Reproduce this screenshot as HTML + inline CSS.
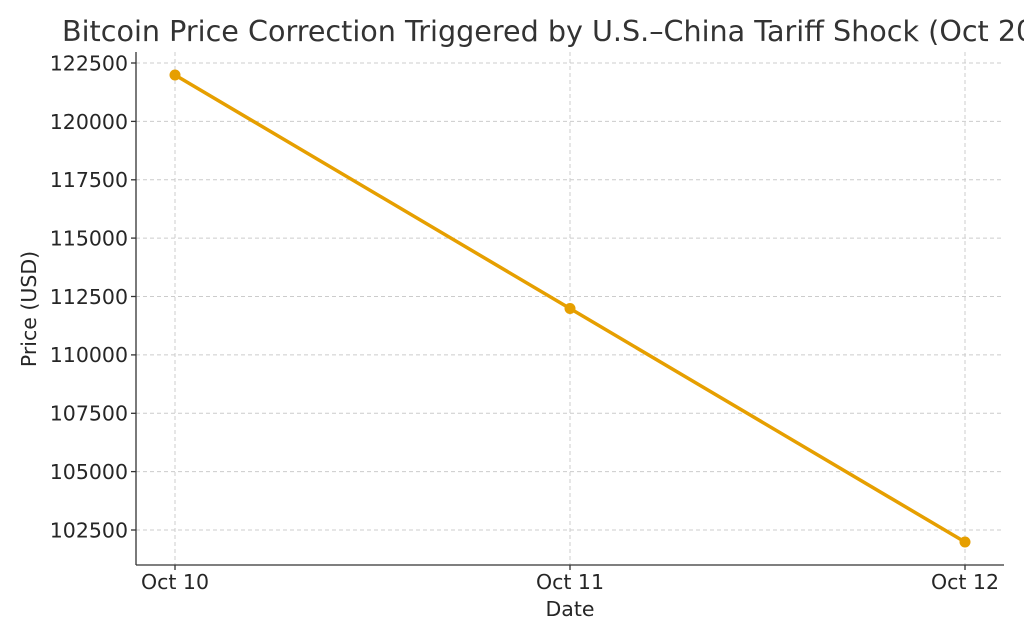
<!DOCTYPE html>
<html><head><meta charset="utf-8"><style>
html,body{margin:0;padding:0;background:#fff;overflow:hidden;}
svg{display:block;font-family:"DejaVu Sans","Liberation Sans",sans-serif;}
</style></head><body>
<svg width="1024" height="640" viewBox="0 0 1024 640" xmlns="http://www.w3.org/2000/svg">
<rect width="1024" height="640" fill="#fff"/>
<g stroke="#cccccc" stroke-width="1" stroke-dasharray="4,3">
<line x1="136" x2="1004" y1="63" y2="63"/>
<line x1="136" x2="1004" y1="121.4" y2="121.4"/>
<line x1="136" x2="1004" y1="179.8" y2="179.8"/>
<line x1="136" x2="1004" y1="238.1" y2="238.1"/>
<line x1="136" x2="1004" y1="296.5" y2="296.5"/>
<line x1="136" x2="1004" y1="354.9" y2="354.9"/>
<line x1="136" x2="1004" y1="413.3" y2="413.3"/>
<line x1="136" x2="1004" y1="471.6" y2="471.6"/>
<line x1="136" x2="1004" y1="530" y2="530"/>
<line x1="175" x2="175" y1="52" y2="565"/>
<line x1="570" x2="570" y1="52" y2="565"/>
<line x1="965" x2="965" y1="52" y2="565"/>
</g>
<g stroke="#333" stroke-width="1.3">
<line x1="136" x2="136" y1="52" y2="565"/>
<line x1="136" x2="1004" y1="565" y2="565"/>
<line x1="131" x2="136" y1="63" y2="63"/>
<line x1="131" x2="136" y1="121.4" y2="121.4"/>
<line x1="131" x2="136" y1="179.8" y2="179.8"/>
<line x1="131" x2="136" y1="238.1" y2="238.1"/>
<line x1="131" x2="136" y1="296.5" y2="296.5"/>
<line x1="131" x2="136" y1="354.9" y2="354.9"/>
<line x1="131" x2="136" y1="413.3" y2="413.3"/>
<line x1="131" x2="136" y1="471.6" y2="471.6"/>
<line x1="131" x2="136" y1="530" y2="530"/>
<line x1="175" x2="175" y1="565" y2="570"/>
<line x1="570" x2="570" y1="565" y2="570"/>
<line x1="965" x2="965" y1="565" y2="570"/>
</g>
<g font-size="20.5" fill="#262626" text-anchor="end">
<text x="128" y="70.5">122500</text>
<text x="128" y="129">120000</text>
<text x="128" y="187">117500</text>
<text x="128" y="245.5">115000</text>
<text x="128" y="304">112500</text>
<text x="128" y="362">110000</text>
<text x="128" y="420.5">107500</text>
<text x="128" y="479">105000</text>
<text x="128" y="537.5">102500</text>
</g>
<g font-size="20.5" fill="#262626" text-anchor="middle">
<text x="175" y="589">Oct 10</text>
<text x="570" y="589">Oct 11</text>
<text x="965" y="589">Oct 12</text>
<text x="570" y="616">Date</text>
</g>
<text transform="translate(36,309) rotate(-90)" font-size="20.5" fill="#262626" text-anchor="middle">Price (USD)</text>
<text x="62" y="41" font-size="28.6" fill="#333">Bitcoin Price Correction Triggered by U.S.–China Tariff Shock (Oct 2025)</text>
<polyline points="175,75 570,308.5 965,542" fill="none" stroke="#E69F00" stroke-width="3.5"/>
<g fill="#E69F00"><circle cx="175" cy="75" r="5.5"/><circle cx="570" cy="308.5" r="5.5"/><circle cx="965" cy="542" r="5.5"/></g>
</svg>
</body></html>
